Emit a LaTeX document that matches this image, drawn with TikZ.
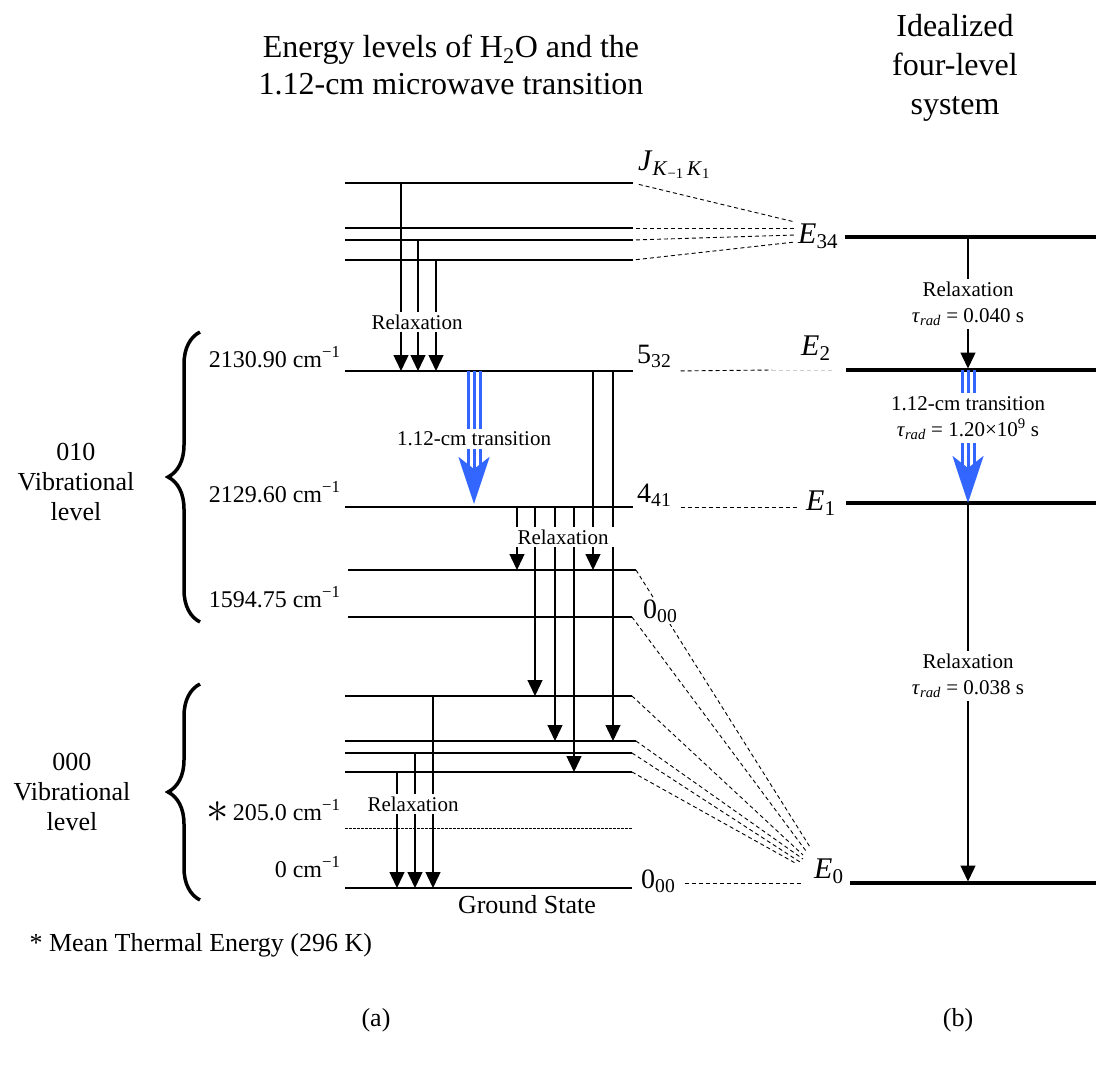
\documentclass[tikz,border=0pt]{standalone}
\usepackage{fontspec}
\setmainfont{Liberation Serif}
\usetikzlibrary{arrows.meta, decorations.pathreplacing}
\definecolor{trblue}{RGB}{51,102,255}

\begin{document}
\begin{tikzpicture}[
    x=1pt, y=-1pt,
    level/.style={line width=1.8pt}, % levels of panel (a)
    levelb/.style={line width=3.6pt}, % levels of panel (b)
    relax/.style={line width=1.4pt, -{Triangle[width=15pt,length=16pt]}}, % relaxation arrows
    link/.style={dash pattern=on 4pt off 3pt, line width=0.9pt}, % dashed correspondences
    trline/.style={draw=trblue, line width=3pt}, % microwave transition
    trhead/.style={trline, -{Stealth[width=31pt,length=47pt,inset=12pt]}},
    smalltxt/.style={font=\fontsize{21}{26}\selectfont, fill=white, inner xsep=6pt, inner ysep=3pt, align=center},
    sidetxt/.style={font=\fontsize{24}{30}\selectfont},
    vibtxt/.style={font=\fontsize{26}{30}\selectfont, align=center},
    statetxt/.style={font=\fontsize{28}{30}\selectfont, anchor=base west, inner sep=1pt},
    etxt/.style={font=\fontsize{30}{32}\selectfont, anchor=base west, inner sep=1pt},
    bigbrace/.style={decorate, decoration={brace, amplitude=32pt}, line width=3.5pt}
]
\useasboundingbox (0,0) rectangle (1096,1071);

% Titles
\node[font=\fontsize{32}{37}\selectfont, align=center] (titleA) at (451,65)
    {Energy levels of H\textsubscript{2}O and the\\1.12-cm microwave transition};
\node[font=\fontsize{32}{39}\selectfont, align=center] (titleB) at (955,68)
    {Idealized\\four-level\\system};

% Levels of panel (a)
\foreach \n/\xa/\xb/\y in {jtop/345/633/183, r1/345/633/228, r2/345/633/240, r3/345/633/260,
    l532/345/633/371, l441/345/633/507, v1/348/636/570, v000/348/632/617,
    g1/345/632/696, g2/345/636/741, g3/345/632/753, g4/345/632/772, gs/345/632/888}{
  \coordinate (\n) at (\xa,\y);
  \coordinate (\n-e) at (\xb,\y);
  \draw[level] (\n) -- (\n-e);
}
% mean thermal energy
\coordinate (mte) at (345,828);
\coordinate (mte-e) at (632,828);
\draw[dash pattern=on 2.5pt off 1.5pt, line width=0.8pt] (mte) -- (mte-e);

% Levels of panel (b)
\foreach \n/\xa/\y in {b34/845/237, b2/846/370, b1/846/503, b0/850/883}{
  \coordinate (\n) at (\xa,\y);
  \coordinate (\n-e) at (1096,\y);
  \draw[levelb] (\n) -- (\n-e);
}

% Relaxation arrows of panel (a)
\foreach \x/\a/\b in {401/jtop/l532, 418/r2/l532, 436/r3/l532,
    517/l441/v1, 535/l441/g1, 555/l441/g2, 574/l441/g4, 593/l532/v1, 613/l532/g2,
    397/g4/gs, 415/g3/gs, 433/g1/gs}
  \draw[relax] (\x,0 |- \a) -- (\x,0 |- \b);

% 1.12-cm transition, panel (a)
\coordinate (trAtop) at (474,0 |- l532);
\coordinate (trAbot) at (474,0 |- l441);
\foreach \dx in {-6,6}
  \draw[trline] ([xshift=\dx pt]trAtop) -- ([xshift=\dx pt,yshift=41pt]trAbot);
\draw[trhead] (trAtop) -- ([yshift=3pt]trAbot);

% Transitions of panel (b)
\draw[relax, shorten >=1.5pt] (968,0 |- b34) -- (968,0 |- b2);
\coordinate (trBtop) at (968,0 |- b2);
\coordinate (trBbot) at (968,0 |- b1);
\foreach \dx in {-6,6}
  \draw[trline] ([xshift=\dx pt]trBtop) -- ([xshift=\dx pt,yshift=37pt]trBbot);
\draw[trhead] (trBtop) -- (trBbot);
\draw[relax, shorten >=1.5pt] (968,0 |- b1) -- (968,0 |- b0);

% Arrow labels
\node[smalltxt] (relA1) at (417,322) {Relaxation};
\node[smalltxt] (relA2) at (563,537) {Relaxation};
\node[smalltxt] (relA3) at (413,804) {Relaxation};
\node[smalltxt] (trAlab) at (474,439) {1.12-cm transition};
\node[smalltxt] (relB1) at (968,304) {Relaxation\\\textit{τ}\textsubscript{\textit{rad}} = 0.040 s};
\node[smalltxt] (trBlab) at (968,418) {1.12-cm transition\\\textit{τ}\textsubscript{\textit{rad}} = 1.20×10\textsuperscript{9} s};
\node[smalltxt] (relB2) at (968,676) {Relaxation\\\textit{τ}\textsubscript{\textit{rad}} = 0.038 s};

% State labels
\node[etxt] (nJ) at (637,170) {\textit{J}\textsubscript{\textit{K}\textsubscript{−1}\,\textit{K}\textsubscript{1}}};
\node[statetxt] (n532) at (636,363) {5\textsubscript{32}};
\node[statetxt] (n441) at (636,502) {4\textsubscript{41}};
\node[statetxt] (n000g) at (640,888) {0\textsubscript{00}};
\node[etxt] (E34) at (797,243) {\textit{E}\textsubscript{34}};
\node[etxt] (E2) at (800,355) {\textit{E}\textsubscript{2}};
\node[etxt] (E1) at (805,510) {\textit{E}\textsubscript{1}};
\node[etxt] (E0) at (813,878) {\textit{E}\textsubscript{0}};

% Dashed links to the four-level system
\coordinate (m34a) at (795,222);
\coordinate (m34b) at (795,228);
\coordinate (m34c) at (795,235);
\coordinate (m34d) at (795,242);
\coordinate (m2f) at (772,370);
\coordinate (m2) at (833,370);
\coordinate (m1) at (798,507);
\coordinate (m0a) at (810,847);
\coordinate (m0b) at (806,851);
\coordinate (m0c) at (803,855);
\coordinate (m0d) at (803,859);
\coordinate (m0e) at (800,862);
\coordinate (m0f) at (797,864);
\coordinate (m0g) at (803,883);
\draw[link, shorten <=6pt] (jtop-e) -- (m34a);
\draw[link, shorten <=3pt] (r1-e) -- (m34b);
\draw[link, shorten <=3pt] (r2-e) -- (m34c);
\draw[link, shorten <=3pt] (r3-e) -- (m34d);
\draw[link, shorten <=8pt] (n532.east |- l532-e) -- (m2f);
\draw[link, gray!40] (m2f) -- (m2);
\draw[link, shorten <=8pt] (n441.east |- l441-e) -- (m1);
\draw[link] (v1-e) -- (m0a);
\draw[link] (v000-e) -- (m0b);
\draw[link] (g1-e) -- (m0c);
\draw[link] (g2-e) -- (m0d);
\draw[link] (g3-e) -- (m0e);
\draw[link] (g4-e) -- (m0f);
\draw[link, shorten <=8pt] (n000g.east |- m0g) -- (m0g);
\node[statetxt, fill=white] (n000u) at (642,618) {0\textsubscript{00}};

% Wavenumbers
\node[sidetxt, anchor=base east] (w532) at (344,367) {2130.90 cm\textsuperscript{−1}};
\node[sidetxt, anchor=base east] (w441) at (344,502) {2129.60 cm\textsuperscript{−1}};
\node[sidetxt, anchor=base east] (w000u) at (344,607) {1594.75 cm\textsuperscript{−1}};
\node[sidetxt, anchor=base east] (wmte) at (344,820) {\raisebox{-2pt}{\scalebox{1.8}{$\ast$}}\,205.0 cm\textsuperscript{−1}};
\node[sidetxt, anchor=base east] (wgs) at (344,877) {0 cm\textsuperscript{−1}};

% Vibrational levels
\draw[bigbrace] (200,622) -- (200,332);
\draw[bigbrace] (200,900) -- (200,684);
\node[vibtxt] (vib010) at (76,482) {010\\Vibrational\\level};
\node[vibtxt] (vib000) at (72,792) {000\\Vibrational\\level};

% Captions
\node[vibtxt, anchor=base] (gsLab) at (527,913) {Ground State};
\node[vibtxt, anchor=west] (note) at (26,945) {* Mean Thermal Energy (296 K)};
\node[vibtxt] (capA) at (376,1020) {(a)};
\node[vibtxt] (capB) at (958,1020) {(b)};

\end{tikzpicture}
\end{document}
